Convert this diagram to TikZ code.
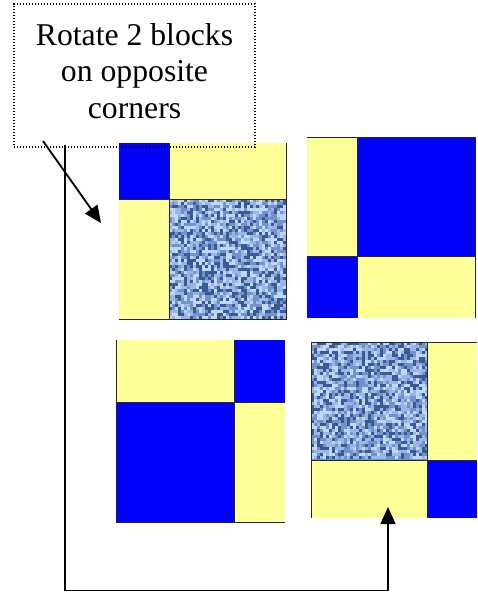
\documentclass[tikz,border=0pt]{standalone}
\usepackage{fontspec}
\setmainfont{Liberation Serif}
\usetikzlibrary{arrows.meta}
\definecolor{qblue}{HTML}{0000FF}
\definecolor{qyellow}{HTML}{FFFF99}
\definecolor{denim0}{HTML}{3A5A95}
\definecolor{denim1}{HTML}{7292CC}
\definecolor{denim2}{HTML}{9BB5E5}
\definecolor{denim3}{HTML}{C2D6F6}
\tikzset{
  conn/.style={line width=1.8pt, draw=black},
  arr/.style={-{Triangle[length=17pt,width=15pt]}},
  edge line/.style={line width=1pt, draw=black!85},
  callout/.style={draw=black, line width=1.2pt, dash pattern=on 1.2pt off 1.8pt, inner sep=0pt},
  lbl/.style={font=\fontsize{31.7}{36.5}\selectfont, inner sep=0pt, anchor=base}
}
% #1 x1, #2 x1+3, #3 xlast, #4 y1, #5 y1+3, #6 ylast
\newcommand{\denimfill}[6]{%
  \foreach \xx in {#1,#2,...,#3}{%
    \foreach \yy in {#4,#5,...,#6}{%
      \pgfmathrandominteger{\rr}{0}{3}%
      \ifnum\rr=1\relax\else
        \fill[denim\rr] (\xx,\yy) rectangle ++(3,3);
      \fi
    }%
  }%
}
\begin{document}
\begin{tikzpicture}[x=1pt,y=-1pt]
\useasboundingbox (0,0) rectangle (477,592);
\pgfmathsetseed{7}
% ---- block 1 (top-left)
\fill[qblue] (119,143) rectangle (169,199);
\fill[qyellow] (169,143) rectangle (286,199);
\fill[qyellow] (119,199) rectangle (169,319);
\begin{scope}
\clip (169,199) rectangle (286,319);
\fill[denim1] (169,199) rectangle (286,319);
\denimfill{169}{172}{283}{199}{202}{316}
\end{scope}
\draw[edge line] (169,143) -- (169,319);
\draw[edge line] (119,199) -- (286,199);
\draw[edge line] (286,143) -- (286,319) -- (119,319);
\node[inner sep=0, minimum width=167pt, minimum height=176pt] (b1) at (202.5,231) {};
% ---- block 2 (top-right)
\fill[qyellow] (307,137) rectangle (357,256);
\fill[qblue] (357,137) rectangle (475,256);
\fill[qblue] (307,256) rectangle (357,318);
\fill[qyellow] (357,256) rectangle (475,318);
\draw[edge line] (357,137) -- (357,318);
\draw[edge line] (307,256) -- (475,256);
\draw[edge line] (307,137) -- (475,137) -- (475,318);
\node[inner sep=0, minimum width=168pt, minimum height=181pt] (b2) at (391,227.5) {};
% ---- block 3 (bottom-left)
\fill[qyellow] (116,340) rectangle (234,402);
\fill[qblue] (234,340) rectangle (285,402);
\fill[qblue] (116,402) rectangle (234,522);
\fill[qyellow] (234,402) rectangle (285,522);
\draw[edge line] (234,340) -- (234,522);
\draw[edge line] (116,402) -- (285,402);
\draw[edge line] (116,340) -- (116,522) -- (285,522);
\node[inner sep=0, minimum width=169pt, minimum height=182pt] (b3) at (200.5,431) {};
% ---- block 4 (bottom-right)
\begin{scope}
\clip (311,342) rectangle (427,460);
\fill[denim1] (311,342) rectangle (427,460);
\denimfill{311}{314}{425}{342}{345}{458}
\end{scope}
\fill[qyellow] (427,342) rectangle (477,460);
\fill[qyellow] (311,460) rectangle (427,518);
\fill[qblue] (427,460) rectangle (477,518);
\draw[edge line] (427,342) -- (427,518);
\draw[edge line] (311,460) -- (477,460);
\draw[edge line] (311,518) -- (311,342) -- (477,342);
\node[inner sep=0, minimum width=166pt, minimum height=176pt] (b4) at (394,430) {};
% ---- callout
\node[callout, minimum width=241pt, minimum height=143pt] (box) at (134.5,75.5) {};
\node[lbl] (t1) at (134.5,45) {Rotate 2 blocks};
\node[lbl] (t2) at (134.5,81.5) {on opposite};
\node[lbl] (t3) at (134.5,118) {corners};
% ---- connectors
\coordinate (a1s) at (43,141);
\coordinate (a1e) at (101,223);
\draw[conn, arr] (a1s) -- (a1e);
\coordinate (l2s) at (65,145);
\coordinate (l2m) at (388,590.5);
\coordinate (l2e) at (388,507);
\draw[conn, arr] (l2s) |- (l2m) -- (l2e);
\end{tikzpicture}
\end{document}
